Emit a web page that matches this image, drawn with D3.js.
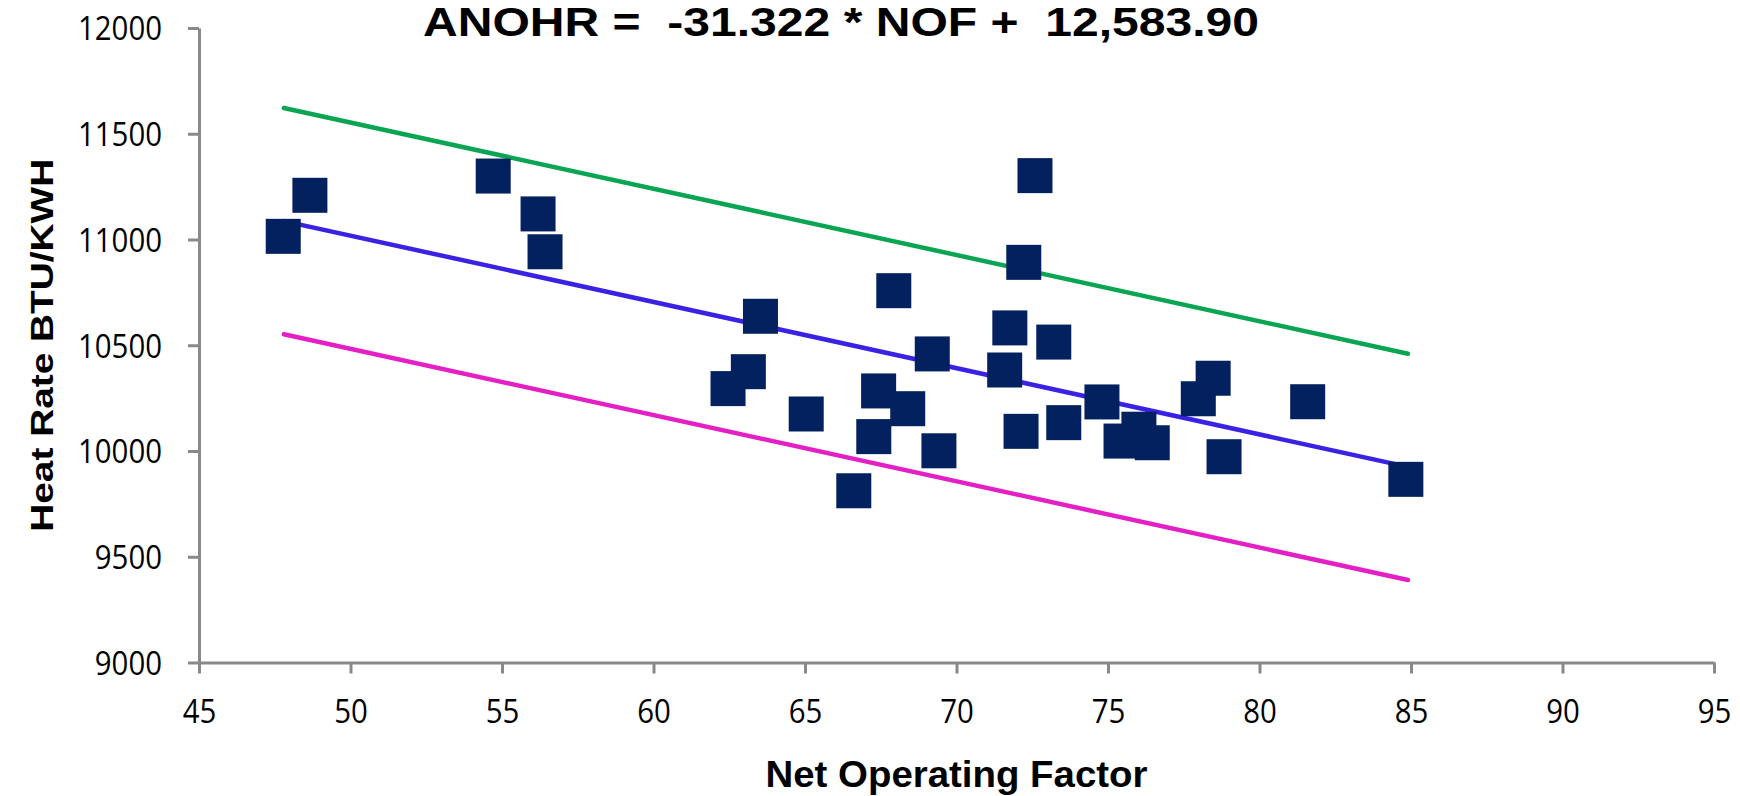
<!DOCTYPE html>
<html>
<head>
<meta charset="utf-8">
<script src="https://cdn.jsdelivr.net/npm/d3@7"></script>
<style>
  html, body { margin: 0; padding: 0; background: #ffffff; }
  svg { display: block; }
</style>
</head>
<body>
<div id="chart"></div>
<script>
// ---- data ----
const nof = [47.78, 48.66, 54.71, 56.19, 56.42, 62.46, 63.13, 63.53, 65.04, 66.61,
             67.27, 67.43, 67.93, 68.39, 69.20, 69.42, 71.59, 71.76, 72.13, 72.22,
             72.59, 73.21, 73.54, 74.80, 75.43, 76.02, 76.46, 77.98, 78.47, 78.83,
             81.59, 84.83];
const heatRate = [11015, 11209, 11300, 11121, 10942, 10295, 10375, 10637, 10175, 9812,
                  10068, 10284, 10758, 10200, 10459, 10001, 10383, 10582, 10093, 10892,
                  11302, 10515, 10134, 10232, 10047, 10103, 10039, 10247, 10344, 9973,
                  10233, 9866];
const lineNof = [47.8, 84.9];
const fitLine = [11087, 9925];
const upperLine = [11622, 10460];
const lowerLine = [10552, 9390];
const xTicks = [45, 50, 55, 60, 65, 70, 75, 80, 85, 90, 95];
const yTicks = [9000, 9500, 10000, 10500, 11000, 11500, 12000];
const titleText = "ANOHR =  -31.322 * NOF +  12,583.90";
const xTitle = "Net Operating Factor";
const yTitle = "Heat Rate BTU/KWH";

// ---- layout ----
const W = 1740, H = 796;
const plotL = 199, plotR = 1714, plotT = 28, plotB = 662.5;

const svg = d3.select("#chart").append("svg")
  .attr("width", W).attr("height", H);

const x = d3.scaleLinear().domain([45, 95]).range([plotL, plotR]);
const y = d3.scaleLinear().domain([9000, 12000]).range([plotB, plotT]);

const axisColor = "#898989";
const tickFont = "'Open Sans', 'Noto Sans', sans-serif";
const fmt = d3.format("d");
const digitAdv = 16.8;

// y axis
const gy = svg.append("g").attr("transform", `translate(${plotL},0)`)
  .call(d3.axisLeft(y).tickValues(yTicks).tickFormat(fmt)
        .tickSize(11).tickSizeOuter(0).tickPadding(26));
gy.select(".domain").attr("stroke", axisColor).attr("stroke-width", 3);
gy.selectAll(".tick line").attr("stroke", axisColor).attr("stroke-width", 3);
gy.selectAll(".tick text")
  .attr("font-family", tickFont).attr("font-size", 33).attr("fill", "#000")
  .attr("dy", "0.36em")
  .attr("textLength", d => fmt(d).length * digitAdv)
  .attr("lengthAdjust", "spacingAndGlyphs");

// x axis
const gx = svg.append("g").attr("transform", `translate(0,${plotB})`)
  .call(d3.axisBottom(x).tickValues(xTicks).tickFormat(fmt)
        .tickSize(11).tickSizeOuter(0).tickPadding(26));
gx.select(".domain").attr("stroke", axisColor).attr("stroke-width", 3);
gx.selectAll(".tick line").attr("stroke", axisColor).attr("stroke-width", 3);
gx.selectAll(".tick text")
  .attr("font-family", tickFont).attr("font-size", 33).attr("fill", "#000")
  .attr("y", 37).attr("dy", "0.72em")
  .attr("textLength", d => fmt(d).length * digitAdv)
  .attr("lengthAdjust", "spacingAndGlyphs");

// lines
const lines = [
  { vals: upperLine, color: "#0aa552" },
  { vals: fitLine, color: "#3a22e4" },
  { vals: lowerLine, color: "#e41fc6" }
];
const lineGen = d3.line().x(d => x(d[0])).y(d => y(d[1]));
lines.forEach(l => {
  svg.append("path")
    .attr("d", lineGen(lineNof.map((v, i) => [v, l.vals[i]])))
    .attr("fill", "none")
    .attr("stroke", l.color)
    .attr("stroke-width", 4.5)
    .attr("stroke-linecap", "round");
});

// markers
const ms = 35;
svg.append("g").selectAll("rect")
  .data(nof.map((v, i) => [v, heatRate[i]]))
  .join("rect")
  .attr("x", d => x(d[0]) - ms / 2)
  .attr("y", d => y(d[1]) - ms / 2)
  .attr("width", ms)
  .attr("height", ms)
  .attr("fill", "#02215e");

// title
const boldFont = "'Liberation Sans', Arial, sans-serif";
svg.append("text")
  .attr("x", 423).attr("y", 36)
  .attr("font-family", boldFont).attr("font-weight", "bold").attr("font-size", 41)
  .attr("textLength", 836).attr("lengthAdjust", "spacingAndGlyphs")
  .attr("fill", "#000")
  .style("white-space", "pre")
  .text(titleText);

// x axis title
svg.append("text")
  .attr("x", (plotL + plotR) / 2).attr("y", 787)
  .attr("text-anchor", "middle")
  .attr("font-family", boldFont).attr("font-weight", "bold").attr("font-size", 37)
  .attr("textLength", 382).attr("lengthAdjust", "spacingAndGlyphs")
  .attr("fill", "#000")
  .text(xTitle);

// y axis title
svg.append("text")
  .attr("transform", `translate(53,${(plotT + plotB) / 2}) rotate(-90)`)
  .attr("text-anchor", "middle")
  .attr("font-family", boldFont).attr("font-weight", "bold").attr("font-size", 31)
  .attr("textLength", 373).attr("lengthAdjust", "spacingAndGlyphs")
  .attr("fill", "#000")
  .text(yTitle);
</script>
</body>
</html>
